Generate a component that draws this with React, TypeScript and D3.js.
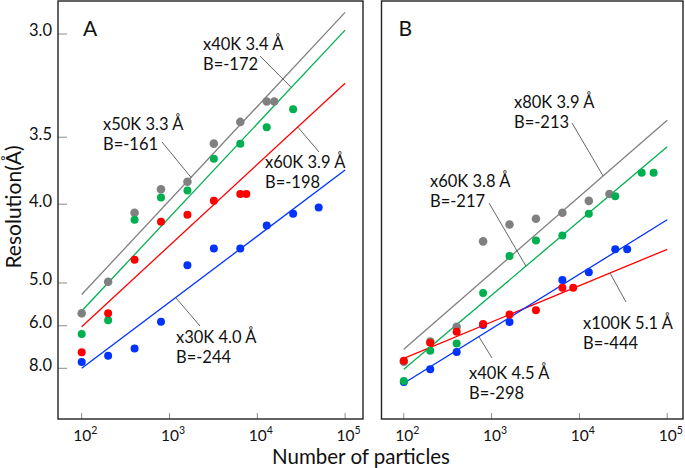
import * as d3 from "d3";

// ---- data (resolution in Å vs number of particles) ----

// panel A
const grayA_N = [100, 200, 400, 800, 1600, 3200, 6400, 12800, 15600];
const grayA_res = [5.65, 4.98, 4.08, 3.87, 3.81, 3.54, 3.41, 3.3, 3.3];
const greenA_N = [100, 200, 400, 800, 1600, 3200, 6400, 12800, 25600];
const greenA_res = [6.27, 5.84, 4.15, 3.94, 3.88, 3.64, 3.54, 3.44, 3.34];
const redA_N = [100, 200, 400, 800, 1600, 3200, 6400, 7500];
const redA_res = [7.04, 5.65, 4.63, 4.17, 4.1, 3.97, 3.91, 3.91];
const blueA_N = [100, 200, 400, 800, 1600, 3200, 6400, 12800, 25600, 50000];
const blueA_res = [7.58, 7.21, 6.86, 5.88, 4.71, 4.48, 4.48, 4.21, 4.09, 4.03];

// panel B
const grayB_N = [100, 200, 400, 800, 1600, 3200, 6400, 12800, 22000];
const grayB_res = [7.56, 6.56, 6.03, 4.39, 4.2, 4.14, 4.08, 3.97, 3.91];
const greenB_N = [100, 200, 400, 800, 1600, 3200, 6400, 12800, 25600, 51200, 70000];
const greenB_res = [9.13, 6.96, 6.64, 5.19, 4.58, 4.38, 4.32, 4.09, 3.93, 3.74, 3.74];
const blueB_N = [100, 200, 400, 800, 1600, 6400, 12800, 25600, 35000];
const blueB_res = [9.24, 8.07, 7.02, 5.98, 5.89, 4.95, 4.82, 4.49, 4.49];
const redB_N = [100, 200, 400, 800, 1600, 3200, 6400, 8500];
const redB_res = [7.5, 6.6, 6.19, 5.95, 5.68, 5.57, 5.09, 5.09];

// fitted lines: resolution at N = 10^2 and N = 10^5
const fitA = { gray: [5.22, 2.92], green: [5.59, 2.985], red: [6.03, 3.21], blue: [8.0, 3.72] };
const fitB = { gray: [6.89, 3.4], green: [8.07, 3.56], red: [7.36, 4.49], blue: [9.39, 4.15] };

// annotation labels
const labelsA = [
  { s: "green", text: ["x40K 3.4 Å", "B=-172"] },
  { s: "gray", text: ["x50K 3.3 Å", "B=-161"] },
  { s: "red", text: ["x60K 3.9 Å", "B=-198"] },
  { s: "blue", text: ["x30K 4.0 Å", "B=-244"] },
];
const labelsB = [
  { s: "gray", text: ["x80K 3.9 Å", "B=-213"] },
  { s: "green", text: ["x60K 3.8 Å", "B=-217"] },
  { s: "blue", text: ["x40K 4.5 Å", "B=-298"] },
  { s: "red", text: ["x100K 5.1 Å", "B=-444"] },
];

const yTicks = [3.0, 3.5, 4.0, 5.0, 6.0, 8.0];
const xTickExp = [2, 3, 4, 5];

const colors: Record<string, string> = {
  gray: "#808080",
  green: "#00b050",
  red: "#ff0000",
  blue: "#0033ff",
};

// ---- layout ----
const W = 685;
const H = 468;
const TOP = 1;
const BOTTOM = 419;
const DECADE = 87.8;
const FONT = "Lato, 'Open Sans', sans-serif";

// label placement (px) and where the leader touches the fit line (N)
const notePosA = [
  { x: 203, y: 50, onN: 24400, tx: 260, ty: 56 },
  { x: 103, y: 130, onN: 1760, tx: 162, ty: 142 },
  { x: 265, y: 168, onN: 28900, tx: 319, ty: 152 },
  { x: 176, y: 343, onN: 1175, tx: 200, ty: 326 },
];
const notePosB = [
  { x: 514, y: 108, onN: 18600, tx: 572, ty: 123 },
  { x: 430, y: 187, onN: 2460, tx: 489, ty: 203 },
  { x: 469, y: 379, onN: 716, tx: 492, ty: 358 },
  { x: 583, y: 329, onN: 22300, tx: 626, ty: 302 },
];

const panels = [
  {
    name: "A", left: 58, right: 363, x100: 81.7, showY: true,
    series: [
      { s: "gray", N: grayA_N, res: grayA_res },
      { s: "blue", N: blueA_N, res: blueA_res },
      { s: "green", N: greenA_N, res: greenA_res },
      { s: "red", N: redA_N, res: redA_res },
    ],
    fit: fitA, labels: labelsA, pos: notePosA,
  },
  {
    name: "B", left: 381.5, right: 683, x100: 403.8, showY: false,
    series: [
      { s: "gray", N: grayB_N, res: grayB_res },
      { s: "blue", N: blueB_N, res: blueB_res },
      { s: "green", N: greenB_N, res: greenB_res },
      { s: "red", N: redB_N, res: redB_res },
    ],
    fit: fitB, labels: labelsB, pos: notePosB,
  },
];

// y is linear in 1/d^2
const yS = d3.scaleLinear().domain([0, 1 / 9]).range([423, 34]);
const yRes = (d: number) => yS(1 / (d * d));

function fitAt(f: number[], n: number) {
  const a = 1 / (f[0] * f[0]);
  const b = 1 / (f[1] * f[1]);
  const t = (Math.log10(n) - 2) / 3;
  return 1 / Math.sqrt(a + (b - a) * t);
}

function Panel({ p }: { p: (typeof panels)[number] }) {
  const x = d3.scaleLog().domain([100, 1e5]).range([p.x100, p.x100 + 3 * DECADE]);
  const clipId = "clip" + p.name;
  const line = d3
    .line<[number, number]>()
    .x((d) => x(d[0]))
    .y((d) => yRes(d[1]));
  const fitOrder = ["gray", "green", "red", "blue"];
  return (
    <g>
      <defs>
        <clipPath id={clipId}>
          <rect x={p.left} y={TOP} width={p.right - p.left} height={BOTTOM - TOP} />
        </clipPath>
      </defs>
      {/* fit lines */}
      <g clipPath={`url(#${clipId})`}>
        {fitOrder.map((s) => {
          const f = (p.fit as any)[s] as number[];
          return (
            <path
              key={s}
              d={line([[100, f[0]], [1e5, f[1]]]) || ""}
              fill="none"
              stroke={colors[s]}
              strokeWidth={1.3}
            />
          );
        })}
      </g>
      {/* leaders */}
      {p.labels.map((l, i) => {
        const pos = p.pos[i];
        const f = (p.fit as any)[l.s] as number[];
        return (
          <line
            key={"ld" + i}
            x1={x(pos.onN)}
            y1={yRes(fitAt(f, pos.onN))}
            x2={pos.tx}
            y2={pos.ty}
            stroke="#404040"
            strokeWidth={0.8}
          />
        );
      })}
      {/* points */}
      {p.series.map((se) =>
        se.N.map((n, i) => (
          <circle
            key={se.s + i}
            cx={x(n)}
            cy={yRes(se.res[i])}
            r={se.s === "gray" ? 4.3 : 4}
            fill={colors[se.s]}
          />
        ))
      )}
      {/* labels */}
      {p.labels.map((l, i) => (
        <text key={"lb" + i} fontFamily={FONT} fontSize={16.5} fill="#111">
          {l.text.map((t, k) => (
            <tspan key={k} x={p.pos[i].x} y={p.pos[i].y + k * 20}>
              {t}
            </tspan>
          ))}
        </text>
      ))}
      {/* x ticks */}
      {xTickExp.map((e) => {
        const xv = x(Math.pow(10, e));
        return (
          <g key={"xt" + e}>
            <line x1={xv} x2={xv} y1={BOTTOM} y2={BOTTOM - 6} stroke="#8c8c8c" strokeWidth={1} />
            <text x={xv + 3.5} y={440.5} textAnchor="middle" fontFamily={FONT} fontSize={15.5} fill="#111">
              10
              <tspan dy={-7} fontSize={10.5}>
                {e}
              </tspan>
            </text>
          </g>
        );
      })}
      {/* y ticks */}
      {p.showY &&
        yTicks.map((t) => (
          <g key={"yt" + t}>
            <line x1={p.left} x2={p.left + 9} y1={yRes(t)} y2={yRes(t)} stroke="#8c8c8c" strokeWidth={1} />
            <text
              x={52}
              y={yRes(t)}
              dy="0.15em"
              textAnchor="end"
              fontFamily={FONT}
              fontSize={16.5}
              fill="#111"
            >
              {t.toFixed(1)}
            </text>
          </g>
        ))}
      {/* frame */}
      <rect
        x={p.left}
        y={TOP}
        width={p.right - p.left}
        height={BOTTOM - TOP}
        fill="none"
        stroke="#222"
        strokeWidth={1.4}
      />
      <text x={p.left + (p.name === "A" ? 25 : 17)} y={36} fontFamily={FONT} fontSize={21} fill="#111">
        {p.name}
      </text>
    </g>
  );
}

export default function App() {
  return (
    <svg
      width={W}
      height={H}
      style={{ position: "absolute", left: 0, top: 0, background: "#fff" }}
    >
      <rect width={W} height={H} fill="#fff" />
      {panels.map((p) => (
        <Panel key={p.name} p={p} />
      ))}
      <text x={361} y={464} textAnchor="middle" fontFamily={FONT} fontSize={20.5} fill="#111">
        Number of particles
      </text>
      <text
        transform="translate(21,207) rotate(-90)"
        textAnchor="middle"
        fontFamily={FONT}
        fontSize={21}
        fill="#111"
      >
        Resolution(Å)
      </text>
    </svg>
  );
}
